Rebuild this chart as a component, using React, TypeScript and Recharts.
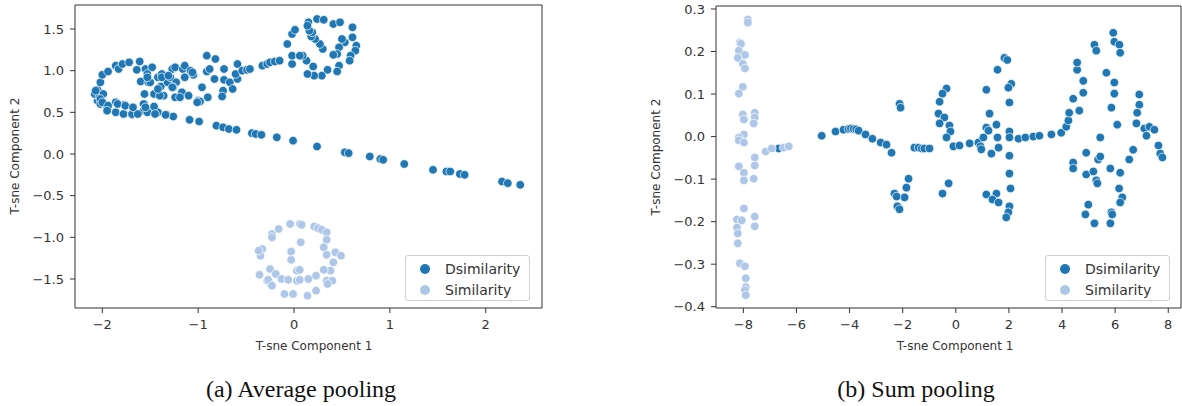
import { ReferenceLine, Scatter, ScatterChart, XAxis, YAxis } from "recharts";

// [x, y] pairs (t-SNE coordinates)
const avgDsim: [number, number][] = [
  [-2.05, 0.64], [-2.02, 0.6], [-1.95, 0.55], [-1.86, 0.62], [-1.77, 0.59], [-1.77, 0.48],
  [-1.69, 0.47], [-1.64, 0.48], [-1.57, 0.52], [-1.5, 0.52], [-1.42, 0.5], [-1.33, 0.47],
  [-1.26, 0.45], [-1.09, 0.41], [-0.99, 0.39], [-0.81, 0.34], [-0.74, 0.32], [-0.68, 0.3],
  [-0.6, 0.29], [-0.44, 0.25], [-0.4, 0.24], [-0.34, 0.23], [-0.18, 0.2], [-0.01, 0.16],
  [0.24, 0.09], [0.53, 0.02], [0.57, 0.01], [0.79, -0.03], [0.9, -0.06], [0.93, -0.07],
  [1.15, -0.12], [1.45, -0.19], [1.59, -0.21], [1.63, -0.21], [1.73, -0.24], [1.78, -0.25],
  [2.17, -0.33], [2.23, -0.35], [2.36, -0.37],
  [-2.05, 0.77], [-2.08, 0.72], [-2.03, 0.68], [-1.99, 0.72], [-2.02, 0.86], [-2.0, 0.95],
  [-1.94, 0.99], [-1.86, 1.06], [-1.83, 1.02], [-1.79, 1.08], [-1.72, 1.1], [-1.61, 1.11],
  [-1.64, 1.01], [-1.6, 0.87], [-1.55, 1.02], [-1.48, 1.04], [-1.53, 0.96], [-1.52, 0.86],
  [-1.56, 0.72], [-1.56, 0.6], [-1.46, 0.57], [-1.46, 0.72], [-1.42, 0.92], [-1.38, 0.96],
  [-1.39, 0.81], [-1.36, 0.7], [-1.32, 0.86], [-1.29, 0.92], [-1.27, 1.02], [-1.24, 1.04],
  [-1.23, 0.86], [-1.26, 0.8], [-1.24, 0.68], [-1.17, 0.74], [-1.19, 0.68], [-1.16, 1.02],
  [-1.14, 1.06], [-1.08, 1.0], [-1.05, 0.95], [-1.1, 0.7], [-1.0, 0.64], [-0.98, 0.63],
  [-0.96, 0.8], [-0.9, 0.68], [-0.91, 0.99], [-0.88, 1.02], [-0.83, 0.9], [-0.91, 1.18],
  [-0.82, 1.14], [-0.73, 1.02], [-0.73, 0.89], [-0.74, 0.76], [-0.75, 0.69], [-0.67, 0.86],
  [-0.64, 0.78], [-0.59, 0.9], [-0.61, 0.96], [-0.59, 1.08], [-0.54, 1.0], [-0.49, 1.01],
  [-0.46, 1.02], [-0.33, 1.06], [-0.28, 1.08], [-0.25, 1.1], [-0.2, 1.11], [-0.15, 1.12],
  [-0.02, 1.08], [-0.02, 1.18], [-0.07, 1.32], [-0.02, 1.44], [0.01, 1.49], [0.15, 1.58],
  [0.24, 1.62], [0.31, 1.61], [0.41, 1.56], [0.48, 1.58], [0.61, 1.52], [0.61, 1.4],
  [0.65, 1.3], [0.64, 1.24], [0.59, 1.18], [0.58, 1.12], [0.53, 1.34], [0.5, 1.38],
  [0.47, 1.28], [0.45, 1.2], [0.41, 1.19], [0.47, 1.06], [0.45, 0.99], [0.35, 1.01],
  [0.29, 0.94], [0.21, 0.94], [0.14, 0.96], [0.2, 1.05], [0.13, 1.12], [0.09, 1.18],
  [0.06, 1.18], [0.3, 1.26], [0.27, 1.32], [0.22, 1.38], [0.18, 1.41], [0.19, 1.46],
  [0.16, 1.48], [0.14, 1.54],
  [-2.07, 0.76], [-2.02, 0.66], [-2.0, 0.62], [-1.94, 0.58], [-1.95, 0.52], [-1.86, 0.5],
  [-1.78, 0.48], [-1.69, 0.48], [-1.63, 0.48], [-1.53, 0.5], [-1.45, 0.48], [-1.34, 0.47],
  [-1.57, 0.6], [-1.55, 0.56], [-1.84, 0.6], [-1.76, 0.58], [-1.68, 0.56], [-1.4, 0.7],
  [-1.27, 0.8], [-1.42, 0.78], [-1.5, 0.86], [-1.53, 0.92], [-1.38, 0.92], [-1.31, 0.94],
  [-1.14, 0.92], [-1.06, 0.98], [-1.01, 0.62],
];

const avgSim: [number, number][] = [
  [-0.04, -0.84], [0.06, -0.84], [0.08, -0.85], [0.21, -0.87], [0.25, -0.89], [0.29, -0.91],
  [0.34, -0.94], [0.34, -1.03], [0.31, -1.12], [0.34, -1.21], [0.43, -1.18], [0.49, -1.22],
  [0.41, -1.3], [0.38, -1.4], [0.31, -1.39], [0.34, -1.52], [0.4, -1.52], [0.35, -1.56],
  [0.23, -1.64], [0.14, -1.7], [-0.01, -1.68], [-0.1, -1.68], [-0.25, -1.55], [-0.28, -1.52],
  [-0.36, -1.45], [-0.25, -1.38], [-0.19, -1.44], [-0.13, -1.5], [-0.06, -1.51], [0.03, -1.52],
  [0.06, -1.51], [0.15, -1.5], [0.23, -1.46], [0.03, -1.4], [0.06, -1.39], [-0.03, -1.27],
  [-0.03, -1.17], [0.07, -1.06], [-0.33, -1.14], [-0.35, -1.22], [-0.37, -1.16], [-0.23, -0.96],
  [-0.23, -1.0], [-0.16, -0.9], [-0.27, -1.51], [-0.23, -1.58],
];

const sumDsim: [number, number][] = [
  [-6.67, -0.028], [-5.05, 0.002], [-4.53, 0.012], [-4.23, 0.016], [-4.04, 0.018], [-3.95, 0.019],
  [-3.85, 0.018], [-3.75, 0.017], [-3.66, 0.014], [-3.4, 0.005], [-3.14, -0.005], [-2.83, -0.014],
  [-2.61, -0.019], [-2.42, -0.038], [-2.12, 0.077], [-2.08, 0.068], [-1.78, -0.099], [-1.86, -0.12],
  [-2.31, -0.134], [-1.93, -0.143], [-2.23, -0.141], [-2.2, -0.164], [-2.12, -0.171], [-1.56, -0.026],
  [-1.4, -0.026], [-1.28, -0.028], [-1.18, -0.028], [-0.99, -0.028],
  [-0.35, 0.113], [-0.5, 0.101], [-0.61, 0.082], [-0.65, 0.054], [-0.43, 0.045], [-0.61, 0.031],
  [-0.24, 0.026], [-0.2, 0.012], [-0.35, -0.002], [-0.09, -0.023], [0.14, -0.021], [0.52, -0.016],
  [0.85, -0.014], [1.04, -0.002], [1.15, 0.021], [0.93, -0.023], [1.34, -0.04], [1.61, -0.026],
  [1.57, -0.002], [1.53, 0.028], [1.27, 0.054], [1.15, 0.11], [1.57, 0.157], [1.83, 0.185],
  [1.94, 0.18], [2.09, 0.124], [1.98, 0.115], [2.02, 0.08], [2.02, 0.012], [2.02, -0.002],
  [2.36, -0.005], [2.62, -0.002], [2.92, 0.0], [3.15, 0.002], [3.6, 0.005], [3.97, 0.009],
  [4.16, 0.023], [4.24, 0.038], [4.27, 0.056], [4.42, 0.089], [4.65, 0.061], [4.8, 0.103],
  [4.8, 0.131], [4.57, 0.157], [4.57, 0.174], [5.22, 0.216], [5.29, 0.202], [5.93, 0.244],
  [5.97, 0.223], [6.16, 0.216], [6.19, 0.197], [5.67, 0.15], [5.97, 0.127], [5.97, 0.101],
  [5.86, 0.068], [6.08, 0.028], [5.44, -0.002], [4.91, -0.038], [5.36, -0.054], [5.44, -0.047],
  [4.42, -0.061], [4.42, -0.075], [4.91, -0.089], [5.18, -0.082], [5.29, -0.103], [5.82, -0.075],
  [6.19, -0.085], [6.68, -0.031], [6.53, -0.054], [6.91, 0.099], [6.91, 0.075], [6.83, 0.056],
  [6.8, 0.031], [7.1, 0.019], [7.29, 0.023], [7.48, 0.016], [7.18, 0.002], [7.63, -0.021],
  [7.7, -0.04], [7.78, -0.049], [-0.27, -0.11], [-0.5, -0.134], [1.15, -0.136], [1.53, -0.134],
  [2.02, -0.087], [2.06, -0.122], [6.15, -0.122], [1.38, -0.148], [1.61, -0.155], [2.02, -0.164],
  [1.98, -0.178], [1.9, -0.19], [4.99, -0.16], [4.88, -0.183], [5.22, -0.204], [5.33, -0.11],
  [5.86, -0.178], [5.89, -0.183], [5.82, -0.204], [6.27, -0.143], [6.19, -0.155], [2.02, -0.045],
  [0.96, -0.03], [1.23, 0.014],
];

const sumSim: [number, number][] = [
  [-7.83, 0.275], [-7.83, 0.268], [-8.13, 0.221], [-8.09, 0.218], [-8.17, 0.202], [-7.94, 0.192],
  [-8.21, 0.185], [-8.02, 0.171], [-7.94, 0.16], [-8.02, 0.117], [-8.17, 0.101], [-8.02, 0.052],
  [-7.98, 0.04], [-7.57, 0.056], [-7.57, 0.045], [-7.61, 0.031], [-7.98, 0.005], [-8.17, -0.002],
  [-8.17, -0.009], [-7.98, -0.014], [-7.57, -0.049], [-7.57, -0.068], [-8.17, -0.07], [-7.98, -0.085],
  [-7.98, -0.103], [-7.61, -0.099], [-7.16, -0.035], [-6.93, -0.028], [-6.48, -0.026], [-6.29, -0.023],
  [-7.98, -0.169], [-7.57, -0.188], [-7.57, -0.211], [-8.24, -0.195], [-8.06, -0.197], [-8.24, -0.214],
  [-8.21, -0.228], [-8.21, -0.251], [-8.13, -0.298], [-7.94, -0.305], [-7.91, -0.333], [-7.91, -0.354],
  [-7.94, -0.361], [-7.91, -0.373],
];

const avgXTicks = [-2, -1, 0, 1, 2];
const avgYTicks = [-1.5, -1.0, -0.5, 0.0, 0.5, 1.0, 1.5];
const sumXTicks = [-8, -6, -4, -2, 0, 2, 4, 6, 8];
const sumYTicks = [-0.4, -0.3, -0.2, -0.1, 0.0, 0.1, 0.2, 0.3];

const DARK = "#1f77b4";
const LIGHT = "#aec7e8";
const INK = "#333333";
const SANS = "'DejaVu Sans', sans-serif";

const toPoints = (pairs: [number, number][]) => pairs.map(([x, y]) => ({ x, y }));
const minus = (s: string) => s.replace("-", "\u2212");
const fmtInt = (v: number) => minus(String(v));
const fmt1 = (v: number) => minus(v.toFixed(1));

const dot = (fill: string) => (props: any) => (
  <circle cx={props.cx} cy={props.cy} r={4.3} fill={fill} stroke="#fff" strokeWidth={0.7} />
);

const tickStyle = { fontSize: 13, fill: INK, fontFamily: SANS };

type PanelProps = {
  left: number;
  width: number;
  marginTop: number;
  marginRight: number;
  yAxisWidth: number;
  xDomain: [number, number];
  yDomain: [number, number];
  xTicks: number[];
  yTicks: number[];
  dsim: [number, number][];
  sim: [number, number][];
};

function Panel(p: PanelProps) {
  return (
    <div style={{ position: "absolute", left: p.left, top: 0 }}>
      <ScatterChart
        width={p.width}
        height={340}
        margin={{ top: p.marginTop, right: p.marginRight, left: 0, bottom: 0 }}
        style={{ fontFamily: SANS }}
      >
        <XAxis
          type="number"
          dataKey="x"
          domain={p.xDomain}
          ticks={p.xTicks}
          interval={0}
          allowDataOverflow
          height={32}
          tickSize={5}
          tickMargin={7}
          tick={tickStyle}
          tickFormatter={fmtInt}
          stroke={INK}
        />
        <YAxis
          type="number"
          dataKey="y"
          domain={p.yDomain}
          ticks={p.yTicks}
          interval={0}
          allowDataOverflow
          width={p.yAxisWidth}
          tickSize={5}
          tickMargin={6}
          tick={tickStyle}
          tickFormatter={fmt1}
          stroke={INK}
        />
        {/* top and right spines */}
        <ReferenceLine y={p.yDomain[1]} stroke={INK} strokeWidth={1} ifOverflow="visible" />
        <ReferenceLine x={p.xDomain[1]} stroke={INK} strokeWidth={1} ifOverflow="visible" />
        <Scatter name="Dsimilarity" data={toPoints(p.dsim)} shape={dot(DARK)} isAnimationActive={false} />
        <Scatter name="Similarity" data={toPoints(p.sim)} shape={dot(LIGHT)} isAnimationActive={false} />
      </ScatterChart>
    </div>
  );
}

function LegendBox({ left, top }: { left: number; top: number }) {
  const row = (color: string, label: string) => (
    <div style={{ display: "flex", alignItems: "center", height: 21 }}>
      <span
        style={{
          display: "inline-block",
          width: 10,
          height: 10,
          borderRadius: "50%",
          background: color,
          marginLeft: 14,
          marginRight: 15,
        }}
      />
      <span>{label}</span>
    </div>
  );
  return (
    <div
      style={{
        position: "absolute",
        left,
        top,
        width: 125,
        height: 46,
        boxSizing: "border-box",
        border: "1px solid #d0d0d0",
        borderRadius: 3,
        background: "rgba(255,255,255,0.85)",
        fontFamily: SANS,
        fontSize: 14,
        color: INK,
        paddingTop: 2,
      }}
    >
      {row(DARK, "Dsimilarity")}
      {row(LIGHT, "Similarity")}
    </div>
  );
}

function AxisTitle({ cx, top, text, rotate }: { cx: number; top: number; text: string; rotate?: boolean }) {
  return (
    <div
      style={{
        position: "absolute",
        left: cx - 100,
        top,
        width: 200,
        textAlign: "center",
        fontFamily: SANS,
        fontSize: 12,
        lineHeight: "12px",
        color: INK,
        transform: rotate ? "rotate(-90deg)" : undefined,
        whiteSpace: "nowrap",
      }}
    >
      {text}
    </div>
  );
}

function Caption({ cx, text }: { cx: number; text: string }) {
  return (
    <div
      style={{
        position: "absolute",
        left: cx - 150,
        top: 377,
        width: 300,
        textAlign: "center",
        fontFamily: "'Liberation Serif', 'Times New Roman', serif",
        fontSize: 24,
        lineHeight: "24px",
        color: "#111",
        whiteSpace: "nowrap",
      }}
    >
      {text}
    </div>
  );
}

export default function App() {
  return (
    <div style={{ position: "absolute", left: 0, top: 0, width: 1182, height: 406, background: "#fff", overflow: "hidden" }}>
      <Panel
        left={0}
        width={560}
        marginTop={5}
        marginRight={18}
        yAxisWidth={75}
        xDomain={[-2.285, 2.587]}
        yDomain={[-1.848, 1.788]}
        xTicks={avgXTicks}
        yTicks={avgYTicks}
        dsim={avgDsim}
        sim={avgSim}
      />
      <Panel
        left={640}
        width={542}
        marginTop={6}
        marginRight={1}
        yAxisWidth={76}
        xDomain={[-9.03, 8.48]}
        yDomain={[-0.403, 0.307]}
        xTicks={sumXTicks}
        yTicks={sumYTicks}
        dsim={sumDsim}
        sim={sumSim}
      />
      <LegendBox left={405} top={255} />
      <LegendBox left={1045} top={255} />
      <AxisTitle cx={314} top={340} text="T-sne Component 1" />
      <AxisTitle cx={955} top={340} text="T-sne Component 1" />
      <AxisTitle cx={15} top={150} text="T-sne Component 2" rotate />
      <AxisTitle cx={656} top={151} text="T-sne Component 2" rotate />
      <Caption cx={301} text="(a) Average pooling" />
      <Caption cx={916} text="(b) Sum pooling" />
    </div>
  );
}
